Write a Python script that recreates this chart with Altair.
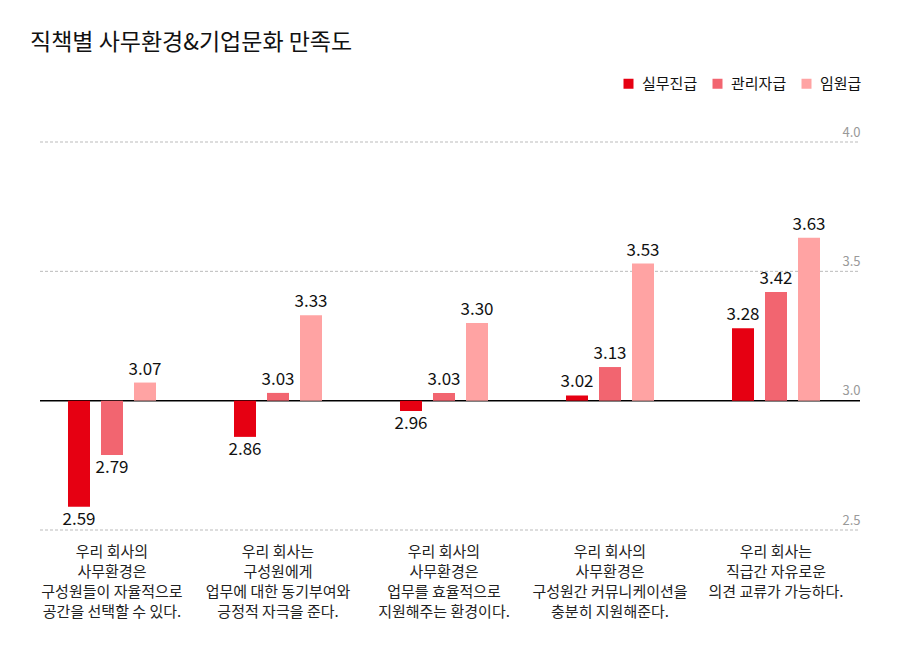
import altair as alt
import pandas as pd

questions = [
    "우리 회사의|사무환경은|구성원들이 자율적으로|공간을 선택할 수 있다.",
    "우리 회사는|구성원에게|업무에 대한 동기부여와|긍정적 자극을 준다.",
    "우리 회사의|사무환경은|업무를 효율적으로|지원해주는 환경이다.",
    "우리 회사의|사무환경은|구성원간 커뮤니케이션을|충분히 지원해준다.",
    "우리 회사는|직급간 자유로운|의견 교류가 가능하다.",
]
levels = ["실무진급", "관리자급", "임원급"]
staff = [2.59, 2.86, 2.96, 3.02, 3.28]
managers = [2.79, 3.03, 3.03, 3.13, 3.42]
executives = [3.07, 3.33, 3.30, 3.53, 3.63]
colors = ["#e60012", "#f26570", "#ffa3a3"]
grid_values = [2.5, 3.5, 4.0]
baseline = [3.0]
tick_values = [2.5, 3.0, 3.5, 4.0]

rows = []
for lvl, vals in zip(levels, [staff, managers, executives]):
    for q, v in zip(questions, vals):
        rows.append({"question": q, "level": lvl, "score": v, "base": 3.0})
df = pd.DataFrame(rows)

FONT = "Noto Sans CJK KR"
W, H = 830, 388

x_enc = alt.X(
    "question:N", sort=questions,
    scale=alt.Scale(paddingInner=0.4036, paddingOuter=0.2018),
    axis=alt.Axis(title=None, labelAngle=0, domain=False, ticks=False,
                  labelExpr="split(datum.label, '|')", labelFontSize=15,
                  labelLineHeight=20, labelPadding=14, labelColor="#222",
                  labelFont=FONT),
)
xoff_enc = alt.XOffset("level:N", sort=levels,
                       scale=alt.Scale(paddingInner=0.3333, paddingOuter=0.1667))
y_scale = alt.Scale(domain=[2.5, 4.0], nice=False, zero=False)
y_axis = alt.Axis(title=None, orient="right", values=tick_values, format=".1f",
                  grid=False, domain=False, ticks=False, labelAlign="right",
                  labelBaseline="alphabetic", labelOffset=-6, labelPadding=1,
                  labelColor="#999", labelFontSize=13)


def y_enc():
    return alt.Y("score:Q", scale=y_scale, axis=y_axis)


bars = alt.Chart(df).mark_bar().encode(
    x=x_enc,
    xOffset=xoff_enc,
    y=y_enc(),
    y2="base:Q",
    color=alt.Color("level:N", sort=levels,
                    scale=alt.Scale(domain=levels, range=colors),
                    legend=alt.Legend(title=None, orient="none", legendX=592, legendY=-66,
                                      direction="horizontal", symbolType="square",
                                      symbolSize=100, symbolStrokeWidth=0,
                                      labelFontSize=15, labelOffset=6, columnPadding=12,
                                      labelColor="#111", labelFont=FONT)),
)

labels_up = alt.Chart(df).transform_filter("datum.score >= 3").mark_text(
    baseline="bottom", dy=-4, fontSize=17, color="#111"
).encode(x=x_enc, xOffset=xoff_enc, y=y_enc(),
         text=alt.Text("score:Q", format=".2f"))

labels_down = alt.Chart(df).transform_filter("datum.score < 3").mark_text(
    baseline="top", dy=5, fontSize=17, color="#111"
).encode(x=x_enc, xOffset=xoff_enc, y=y_enc(),
         text=alt.Text("score:Q", format=".2f"))

grid = alt.Chart(pd.DataFrame({"score": grid_values})).mark_rule(
    color="#bbb", strokeDash=[3, 2], strokeWidth=1
).encode(y=y_enc(), x=alt.value(11), x2=alt.value(W + 1))

base_line = alt.Chart(pd.DataFrame({"score": baseline})).mark_rule(
    color="#000", strokeWidth=1.5
).encode(y=y_enc(), x=alt.value(11), x2=alt.value(W + 1))

chart = alt.layer(grid, base_line, bars, labels_up, labels_down).properties(
    width=W, height=H,
    title=alt.TitleParams("직책별 사무환경&기업문화 만족도", anchor="start", fontSize=23,
                          fontWeight=400, offset=21, dx=1, color="#111", font=FONT),
    autosize=alt.AutoSizeParams(type="none"),
    padding={"left": 21, "top": 134, "right": 33, "bottom": 112},
).configure(font=FONT, background="white").configure_view(stroke=None)

chart.save("out.html", embed_options={"renderer": "svg", "actions": False})
